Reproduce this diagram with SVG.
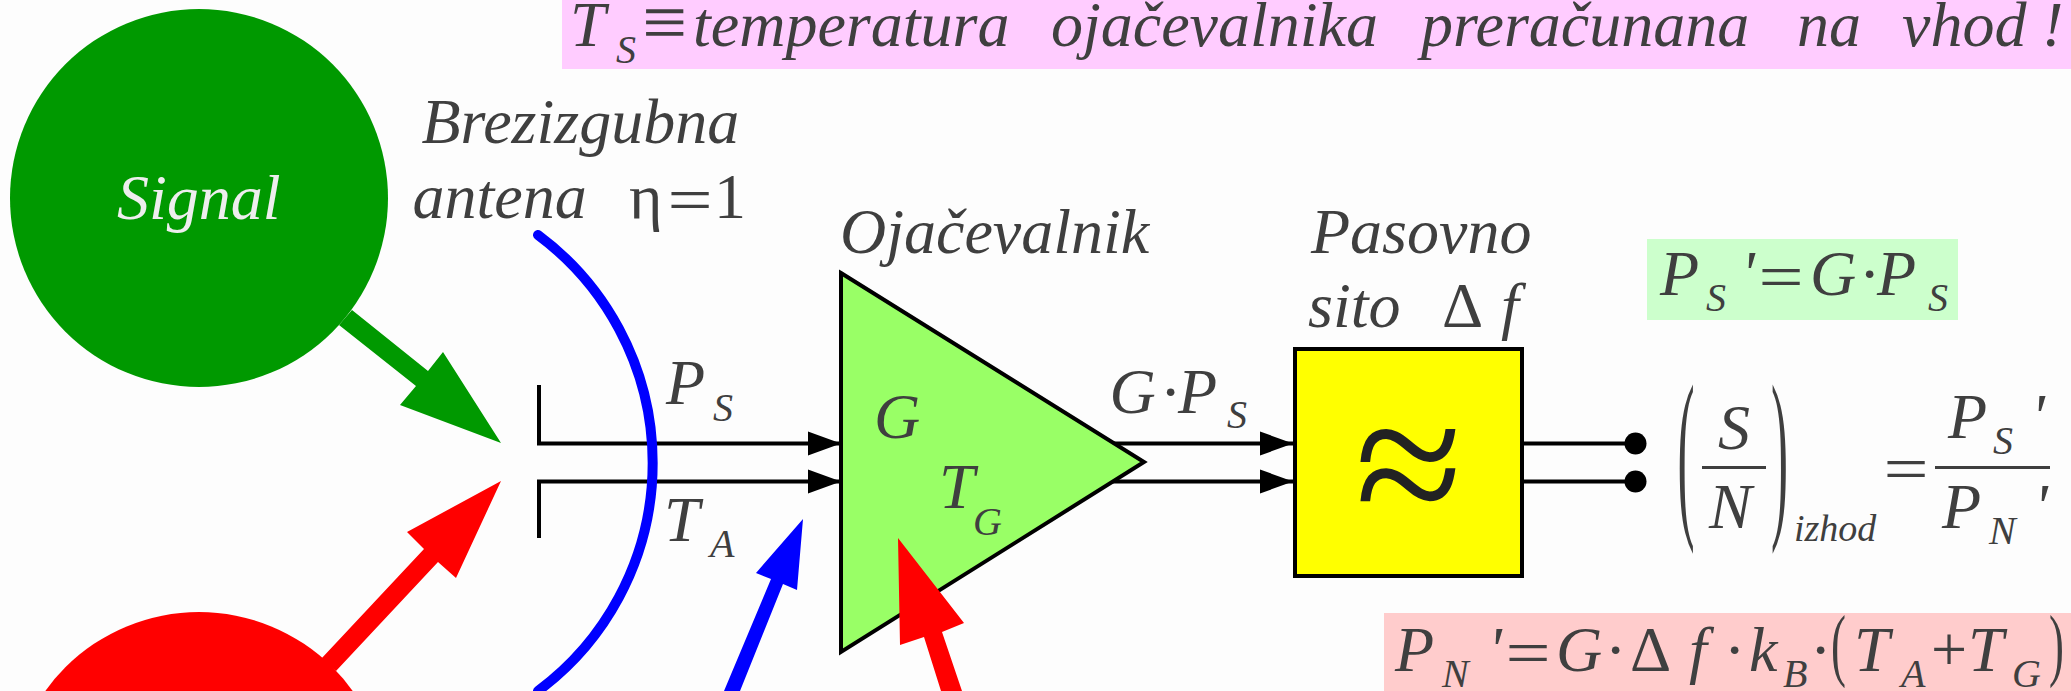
<svg xmlns="http://www.w3.org/2000/svg" width="2071" height="691" viewBox="0 0 2071 691">
<style>
text{font-family:"Liberation Serif","Times New Roman",serif;fill:#3f3f3f;font-size:64px;font-style:italic}
.s{font-size:40px}
.r{font-style:normal}
.w{stroke:#000;stroke-width:4;fill:none}
.a{stroke:#000;stroke-width:4;fill:none;marker-end:url(#ah)}
</style>
<defs>
<marker id="ah" markerUnits="userSpaceOnUse" markerWidth="34" markerHeight="26" refX="33" refY="13" orient="auto"><path d="M0 1L33 13L0 25Z" fill="#000"/></marker>
</defs>
<rect width="2071" height="691" fill="#fdfdfd"/>
<g id="note-ts">
<rect x="562" y="0" width="1509" height="69" fill="#ffccff"/>
<text y="46"><tspan x="570">T</tspan><tspan x="616" y="63" class="s">S</tspan></text>
<text class="r" transform="translate(642 48) scale(1.25 1.2)">≡</text>
<text y="46"><tspan x="693">temperatura</tspan><tspan x="1051">ojačevalnika</tspan><tspan x="1421">preračunana</tspan><tspan x="1797">na</tspan><tspan x="1902">vhod</tspan><tspan x="2042">!</tspan></text>
</g>
<g id="note-ps">
<rect x="1647" y="239" width="311" height="81" fill="#ccffcc"/>
<text y="295"><tspan x="1660">P</tspan><tspan x="1706" y="311" class="s">S</tspan><tspan x="1741" y="295">'</tspan></text>
<text class="r" transform="translate(1758.5 298) scale(1.25 1)">=</text>
<text y="295"><tspan x="1810">G</tspan><tspan x="1859" class="r">·</tspan><tspan x="1877">P</tspan><tspan x="1928" y="311" class="s">S</tspan></text>
</g>
<g id="note-pn">
<rect x="1384" y="613" width="687" height="78" fill="#ffcccc"/>
<text y="671"><tspan x="1395">P</tspan><tspan x="1442" y="687" class="s">N</tspan><tspan x="1488" y="671">'</tspan></text>
<text class="r" transform="translate(1505.5 674) scale(1.25 1)">=</text>
<text y="671"><tspan x="1556">G</tspan><tspan x="1605" class="r">·</tspan><tspan x="1630" class="r">Δ</tspan><tspan x="1689">f</tspan><tspan x="1724" class="r">·</tspan><tspan x="1749">k</tspan><tspan x="1783" y="687" class="s">B</tspan><tspan x="1810" y="671" class="r">·</tspan></text>
<text class="r" transform="translate(1831 671) scale(.7 1.25)">(</text>
<text y="671"><tspan x="1854">T</tspan><tspan x="1901" y="687" class="s">A</tspan><tspan x="1931" y="671" class="r">+</tspan><tspan x="1968">T</tspan><tspan x="2012" y="687" class="s">G</tspan></text>
<text class="r" transform="translate(2049 671) scale(.7 1.25)">)</text>
</g>
<g id="connectors">
<path class="w" d="M539 385V443.5H640M539 538V481.5H640"/>
<line class="a" x1="640" y1="443.5" x2="841" y2="443.5"/>
<line class="a" x1="640" y1="481.5" x2="841" y2="481.5"/>
<line class="a" x1="1110" y1="443.5" x2="1293" y2="443.5"/>
<line class="a" x1="1110" y1="481.5" x2="1293" y2="481.5"/>
<line class="w" x1="1522" y1="443.5" x2="1635" y2="443.5"/>
<line class="w" x1="1522" y1="481.5" x2="1635" y2="481.5"/>
<circle cx="1635.5" cy="443.5" r="11" fill="#000"/>
<circle cx="1635.5" cy="481.5" r="11" fill="#000"/>
</g>
<g id="signal">
<circle cx="199" cy="198" r="189" fill="#009900"/>
<text x="117" y="219" style="fill:#eeeeee">Signal</text>
<polygon points="352,310 428,371 443,352 501,443 400,405 416,386 339,325" fill="#009900"/>
</g>
<g id="noise">
<circle cx="199" cy="801" r="189" fill="#ff0000"/>
<polygon points="501,481 456,578 438,562 336,671 321,659 424,549 407,532" fill="#ff0000"/>
</g>
<g id="antenna">
<path d="M538 235A284 284 0 0 1 538 691" fill="none" stroke="#0000ff" stroke-width="10" stroke-linecap="round"/>
<text><tspan x="421.5" y="143">Brezizgubna</tspan><tspan x="412.5" y="218">antena</tspan><tspan x="629" y="218" class="r">η</tspan></text>
<text class="r" transform="translate(667.5 221) scale(1.25 1)">=</text>
<text x="714" y="218" class="r">1</text>
<text y="404"><tspan x="666">P</tspan><tspan x="713" y="421" class="s">S</tspan></text>
<text y="541"><tspan x="664">T</tspan><tspan x="710" y="557" class="s">A</tspan></text>
<polygon points="803,519 797,590 783,584 740,691 724,691 771,579 756,573" fill="#0000ff"/>
</g>
<g id="amplifier">
<polygon points="841,273 1144,462 841,652" fill="#99ff66" stroke="#000" stroke-width="4"/>
<text x="840" y="253">Ojačevalnik</text>
<text x="874" y="438">G</text>
<text y="508"><tspan x="939">T</tspan><tspan x="973" y="535" class="s">G</tspan></text>
<polygon points="898,538 964,623 942,632 962,691 941,691 924,637 900,645" fill="#ff0000"/>
</g>
<text y="413"><tspan x="1109.5">G</tspan><tspan x="1160" class="r">·</tspan><tspan x="1178">P</tspan><tspan x="1227" y="428" class="s">S</tspan></text>
<g id="filter">
<rect x="1295" y="349" width="227" height="227" fill="#ffff00" stroke="#000" stroke-width="4"/>
<text x="1355" y="530" class="r" style="font-size:196px;fill:#222222">≈</text>
<text><tspan x="1311" y="253">Pasovno</tspan><tspan x="1308" y="327">sito</tspan><tspan x="1442" y="327" class="r">Δ</tspan><tspan x="1501" y="327">f</tspan></text>
</g>
<g id="snr">
<text class="r" transform="translate(1677.5 514) scale(.8 2.9)">(</text>
<text class="r" transform="translate(1771 514) scale(.8 2.9)">)</text>
<text x="1718" y="449">S</text>
<rect x="1702" y="466" width="64" height="3" fill="#3f3f3f"/>
<text x="1709" y="528">N</text>
<text x="1794" y="541" style="font-size:38px">izhod</text>
<text class="r" transform="translate(1883.5 490) scale(1.25 1)">=</text>
<rect x="1935" y="466" width="115" height="3" fill="#3f3f3f"/>
<text y="438"><tspan x="1948">P</tspan><tspan x="1993" y="454" class="s">S</tspan><tspan x="2031" y="438">'</tspan></text>
<text y="528"><tspan x="1942">P</tspan><tspan x="1989" y="544" class="s">N</tspan><tspan x="2034" y="528">'</tspan></text>
</g>
</svg>
